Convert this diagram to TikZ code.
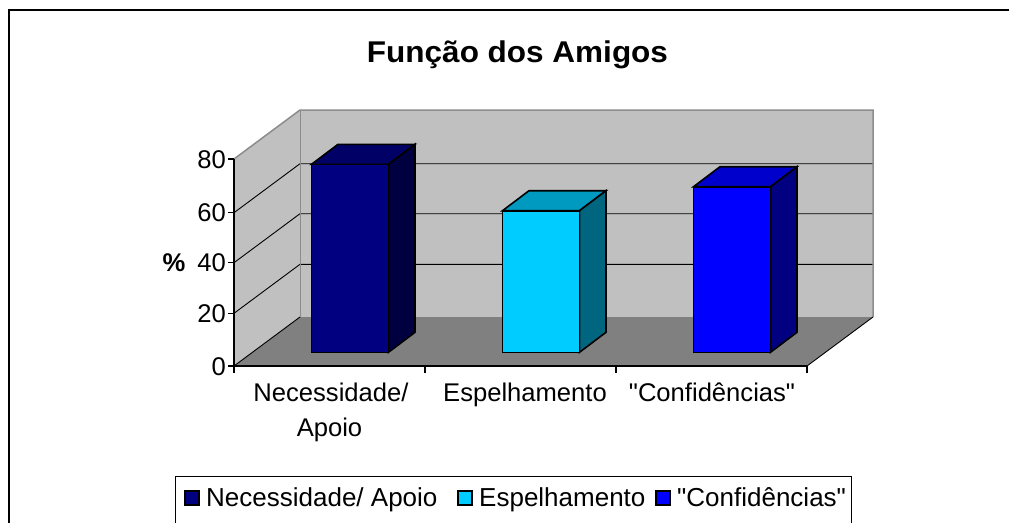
\documentclass[tikz,border=0pt]{standalone}
\usepackage{fontspec}
\setmainfont[Ligatures=TeXOff]{Liberation Sans}
\definecolor{wallc}{HTML}{C0C0C0}
\definecolor{floorc}{HTML}{808080}
\definecolor{edgec}{HTML}{8C8C8C}
\definecolor{aF}{HTML}{000080}\definecolor{aT}{HTML}{000066}\definecolor{aS}{HTML}{000040}
\definecolor{bF}{HTML}{00CCFF}\definecolor{bT}{HTML}{0099BF}\definecolor{bS}{HTML}{006680}
\definecolor{cF}{HTML}{0000FF}\definecolor{cT}{HTML}{0000CC}\definecolor{cS}{HTML}{000080}
\tikzset{
  face/.style={draw=black,line width=1.6pt,line join=miter},
  grid/.style={draw=black,line width=0.9pt},
  wedge/.style={draw=edgec,line width=1.5pt},
  axisline/.style={draw=black,line width=1.1pt},
  lbl/.style={font=\fontsize{25.6}{30}\selectfont,inner sep=0pt},
  leglbl/.style={font=\fontsize{26}{30}\selectfont,inner sep=0pt,anchor=base west},
  legmark/.style={draw=black,line width=1.2pt},
}
\begin{document}
\begin{tikzpicture}[x=1pt,y=-1pt]
\clip (0,0) rectangle (1009,522);
\fill[white] (0,0) rectangle (1009,522);
% outer frame
\draw[line width=2.5pt] (9,530) -- (9,10) -- (1020,10);
% title
\node[font=\bfseries\fontsize{30}{34}\selectfont,inner sep=0pt,anchor=base,xscale=1.05] (title) at (517.5,62) {Função dos Amigos};
% walls and floor
\fill[wallc] (234,159) -- (300,110) -- (300,317) -- (234,366) -- cycle;
\fill[wallc] (300,110) rectangle (873,317);
\fill[floorc] (234,366) -- (300,317) -- (873,317) -- (807,366) -- cycle;
% gridlines
\foreach \y in {212.7,262.7,313.3}{
  \draw[grid] (234,\y) -- (300,\y-49) -- (873,\y-49);
}
\draw[grid] (234,366) -- (300,317);
% wall edges
\draw[wedge] (234,159) -- (300,110) -- (873,110) -- (873,317);
\draw[draw=edgec,line width=1pt] (300,110) -- (300,317);
\draw[grid] (807,366) -- (873,317);
% axes
\draw[axisline] (234,159) -- (234,366) -- (807,366);
\foreach \y/\v in {159/80,212.7/60,262.7/40,313.3/20,366/0}{
  \draw[axisline] (228,\y) -- (234,\y);
  \node[lbl,anchor=base east] (v\v) at (226,\y+9.2) {\v};
}
\foreach \x in {234,425,616,807}{
  \draw[axisline] (\x,366) -- (\x,373);
}
\node[lbl,font=\bfseries\fontsize{25.6}{30}\selectfont,anchor=base] (pct) at (174,271.9) {\%};
% bars
\foreach \xa/\top/\c in {311.5/164.3/a,502.5/210.7/b,693.5/186.7/c}{
  \pgfmathsetmacro{\xb}{\xa+77}
  \path[face,fill=\c T] (\xa,\top) -- (\xa+26.5,\top-20) -- (\xb+26.5,\top-20) -- (\xb,\top) -- cycle;
  \path[face,fill=\c S] (\xb,\top) -- (\xb+26.5,\top-20) -- (\xb+26.5,332.3) -- (\xb,352.3) -- cycle;
  \path[face,fill=\c F] (\xa,\top) rectangle (\xb,352.3);
}
% category labels
\node[lbl,anchor=base] (cat1a) at (331,401.7) {Necessidade/};
\node[lbl,anchor=base] (cat1b) at (329.5,436) {Apoio};
\node[lbl,anchor=base] (cat2) at (525,401.7) {Espelhamento};
\node[lbl,anchor=base] (cat3) at (712,401.7) {"Confidências"};
% legend
\draw[line width=1pt] (175.5,540) -- (175.5,476) -- (851,476) -- (851,540);
\path[legmark,fill=aF] (185,491) rectangle (199,505);
\node[leglbl] (leg1) at (206,506.7) {Necessidade/ Apoio};
\path[legmark,fill=bF] (458,491) rectangle (472,505);
\node[leglbl] (leg2) at (479,506.7) {Espelhamento};
\path[legmark,fill=cF] (656,491) rectangle (670,505);
\node[leglbl] (leg3) at (677,506.7) {"Confidências"};
\end{tikzpicture}
\end{document}
